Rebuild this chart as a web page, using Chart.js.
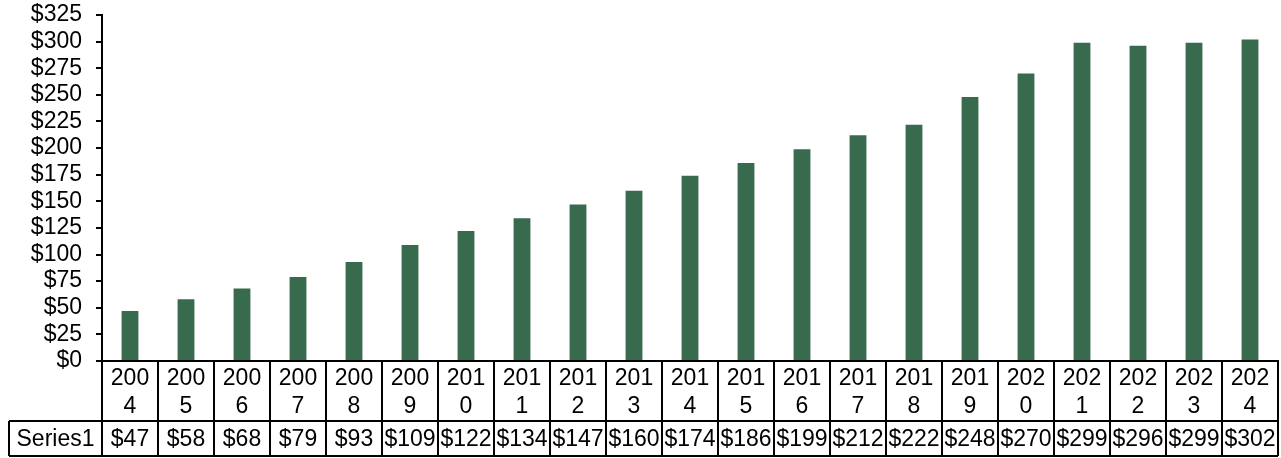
<!DOCTYPE html>
<html lang="en">
  <head>
    <meta charset="UTF-8" />
    <title>Series1 by year</title>
    <script src="https://cdn.jsdelivr.net/npm/chart.js@4"></script>
    <style>
      body { margin: 0; background: #fff; }
      #wrap { width: 1281px; height: 458px; position: relative; }
    </style>
  </head>
  <body>
    <div id="wrap"><canvas id="myChart"></canvas></div>

    <script>
      const years = ['2004', '2005', '2006', '2007', '2008', '2009', '2010', '2011', '2012', '2013', '2014',
        '2015', '2016', '2017', '2018', '2019', '2020', '2021', '2022', '2023', '2024'];
      const series1 = [47, 58, 68, 79, 93, 109, 122, 134, 147, 160, 174, 186, 199, 212, 222, 248, 270, 299, 296, 299, 302];
      const seriesName = 'Series1';

      const FONT = 'Liberation Sans, Arial, sans-serif';

      // years wrap in the narrow cells like "200" / "4"
      const yearLabels = years.map(y => [y.slice(0, 3), y.slice(3)]);

      // draws the data table under the axis
      const dataTable = {
        id: 'dataTable',
        afterDraw(chart) {
          const ctx = chart.ctx;
          const x = chart.scales.x;
          const top = chart.scales.y.bottom;
          const rowTop = top + 60;
          const rowBottom = rowTop + 35;
          const cell = (x.right - x.left) / years.length;
          const leftEdge = 9;

          ctx.save();
          ctx.strokeStyle = '#000';
          ctx.lineWidth = 2;
          ctx.beginPath();
          ctx.moveTo(x.left, top); ctx.lineTo(x.right, top);
          ctx.moveTo(leftEdge, rowTop); ctx.lineTo(x.right, rowTop);
          ctx.moveTo(leftEdge, rowBottom); ctx.lineTo(x.right, rowBottom);
          ctx.moveTo(leftEdge, rowTop); ctx.lineTo(leftEdge, rowBottom);
          for (let i = 0; i <= years.length; i++) {
            const px = Math.round(x.left + i * cell);
            ctx.moveTo(px, top); ctx.lineTo(px, rowBottom);
          }
          ctx.stroke();

          ctx.fillStyle = '#000';
          ctx.font = '23px ' + FONT;
          ctx.textAlign = 'center';
          ctx.textBaseline = 'middle';
          const ty = (rowTop + rowBottom) / 2 + 1;
          ctx.fillText(seriesName, (leftEdge + x.left) / 2, ty);
          series1.forEach((v, i) => {
            ctx.fillText('$' + v, x.getPixelForValue(i), ty);
          });
          ctx.restore();
        }
      };

      const ctx = document.getElementById('myChart').getContext('2d');
      const myChart = new Chart(ctx, {
        type: 'bar',
        data: {
          labels: yearLabels,
          datasets: [{
            label: seriesName,
            data: series1,
            backgroundColor: '#386A4E',
            categoryPercentage: 1,
            barPercentage: 0.3
          }]
        },
        options: {
          responsive: true,
          maintainAspectRatio: false,
          animation: false,
          layout: { padding: { top: 15, right: 3, left: 0, bottom: 0 } },
          plugins: {
            legend: { display: false },
            tooltip: { enabled: false }
          },
          scales: {
            x: {
              afterFit(scale) { scale.height = 97; },
              grid: { display: false },
              border: { display: true, color: '#000', width: 2 },
              ticks: {
                color: '#000',
                font: { family: FONT, size: 23, lineHeight: 1.2 },
                padding: -4,
                maxRotation: 0,
                autoSkip: false
              }
            },
            y: {
              min: 0,
              max: 325,
              afterFit(scale) {
                scale.width = 102;
                scale.paddingTop = 0;
                scale.paddingBottom = 0;
              },
              grid: { drawOnChartArea: false, drawTicks: true, tickLength: 6, color: '#000', lineWidth: 2 },
              border: { display: true, color: '#000', width: 2 },
              ticks: {
                stepSize: 25,
                autoSkip: false,
                color: '#000',
                padding: 14,
                font: { family: FONT, size: 23 },
                callback: v => '$' + v
              }
            }
          }
        },
        plugins: [dataTable]
      });
    </script>
  </body>
</html>
